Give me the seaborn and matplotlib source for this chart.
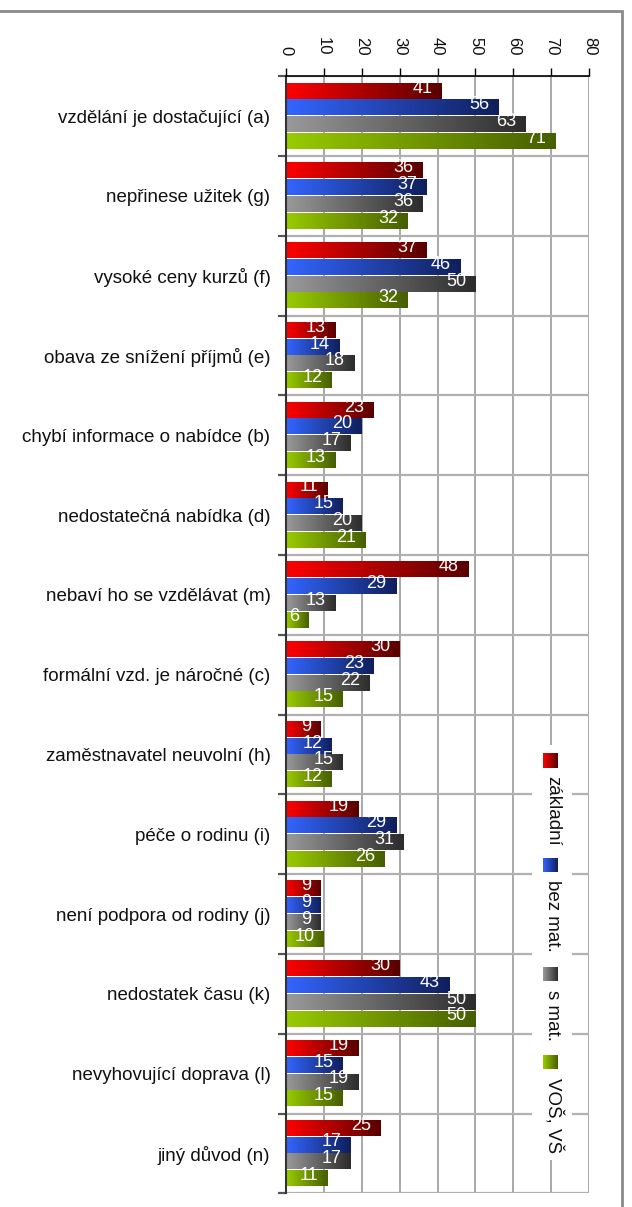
import numpy as np
import pandas as pd
import matplotlib
matplotlib.use("Agg")
import matplotlib.pyplot as plt
from matplotlib.colors import to_rgb
from matplotlib.patches import Rectangle
import seaborn as sns

# ---------------- data ----------------
categories = [
    "vzdělání je dostačující (a)",
    "nepřinese užitek (g)",
    "vysoké ceny kurzů (f)",
    "obava ze snížení příjmů (e)",
    "chybí informace o nabídce (b)",
    "nedostatečná nabídka (d)",
    "nebaví ho se vzdělávat (m)",
    "formální vzd. je náročné (c)",
    "zaměstnavatel neuvolní (h)",
    "péče o rodinu (i)",
    "není podpora od rodiny (j)",
    "nedostatek času (k)",
    "nevyhovující doprava (l)",
    "jiný důvod (n)",
]
groups = ["základní", "bez mat.", "s mat.", "VOŠ, VŠ"]
zakladni = [41, 36, 37, 13, 23, 11, 48, 30, 9, 19, 9, 30, 19, 25]
bez_mat = [56, 37, 46, 14, 20, 15, 29, 23, 12, 29, 9, 43, 15, 17]
s_mat = [63, 36, 50, 18, 17, 20, 13, 22, 15, 31, 9, 50, 19, 17]
vos_vs = [71, 32, 32, 12, 13, 21, 6, 15, 12, 26, 10, 50, 15, 11]
x_ticks = [0, 10, 20, 30, 40, 50, 60, 70, 80]

start_colors = ["#FF0000", "#3366FF", "#9A9A9A", "#99CC00"]
end_colors = ["#580000", "#101F5C", "#2C2C2C", "#465E00"]

series = [zakladni, bez_mat, s_mat, vos_vs]
df = pd.DataFrame({
    "category": np.repeat([categories], len(groups), axis=0).ravel(),
    "group": np.repeat(groups, len(categories)),
    "value": np.concatenate(series),
})

# ---------------- style ----------------
sns.set_style("white")
plt.rcParams["font.family"] = ["Liberation Sans", "DejaVu Sans"]

W, H = 632, 1207
fig = plt.figure(figsize=(W / 100, H / 100), dpi=100)

def fx(px):
    return px / W

def fy(py):
    return 1 - py / H

ax_l, ax_r, ax_t, ax_b = 285.7, 589.3, 76.3, 1193.3
ax = fig.add_axes([fx(ax_l), fy(ax_b), fx(ax_r) - fx(ax_l), fy(ax_t) - fy(ax_b)])

sns.barplot(data=df, x="value", y="category", hue="group", hue_order=groups,
            order=categories, palette=start_colors, orient="h", width=0.84,
            gap=0.1, legend=False, saturation=1, errorbar=None, ax=ax)

def gradient(c0, c1, n=256):
    a = np.array(to_rgb(c0))
    b = np.array(to_rgb(c1))
    t = np.linspace(0, 1, n)[:, None]
    return (a * (1 - t) + b * t)[None, :, :]

for cont, c0, c1, vals in zip(ax.containers, start_colors, end_colors, series):
    img = gradient(c0, c1)
    for rect, v in zip(cont.patches, vals):
        x0, y0 = rect.get_x(), rect.get_y()
        w, h = rect.get_width(), rect.get_height()
        rect.set_visible(False)
        ax.imshow(img, extent=[x0, x0 + w, y0 + h, y0], aspect="auto",
                  interpolation="bilinear", zorder=2)
        ax.annotate(str(v), xy=(x0 + w, y0 + h / 2), xytext=(-6.5, 2.2),
                    textcoords="offset points", ha="right", va="center",
                    color="white", fontsize=13, zorder=3)

ax.set_xlim(0, 80)
ax.set_ylim(len(categories) - 0.5, -0.5)
ax.set_xlabel("")
ax.set_ylabel("")

# x axis on top
ax.xaxis.tick_top()
ax.set_xticks(x_ticks)
ax.set_xticklabels([str(t) for t in x_ticks])
ax.tick_params(axis="x", which="major", top=True, bottom=False, length=5.5,
               width=1, color="black", labelsize=12, pad=9.5,
               labelrotation=270, labelcolor="#111111")

# y axis
ax.set_yticks(range(len(categories)))
ax.set_yticklabels(categories)
ax.set_yticks(np.arange(-0.5, len(categories), 1), minor=True)
ax.tick_params(axis="y", which="major", length=0, labelsize=13.5, pad=11,
               labelcolor="#111111")
ax.tick_params(axis="y", which="minor", left=True, length=6, width=1.6,
               color="#555555")

ax.grid(False)
ax.grid(True, which="major", axis="x", color="#A8A8A8", lw=1.4)
ax.grid(True, which="minor", axis="y", color="#B0B0B0", lw=1.6)
ax.set_axisbelow(True)

for s in ["right", "bottom"]:
    ax.spines[s].set_visible(False)
ax.spines["left"].set_color("#333333")
ax.spines["left"].set_linewidth(1.5)
ax.spines["top"].set_color("black")
ax.spines["top"].set_linewidth(1.2)

# legend (rotated, drawn like the original)
bg = Rectangle((fx(532), fy(1160)), fx(40), 415 / H, transform=fig.transFigure,
               facecolor="white", edgecolor="none", zorder=4)
fig.add_artist(bg)

square_tops = [753.3, 857.7, 967.0, 1055.0]
for g, c0, c1, top in zip(groups, start_colors, end_colors, square_tops):
    lax = fig.add_axes([fx(542.7), fy(top + 14.5), fx(15), 14.5 / H])
    lax.imshow(gradient(c0, c1), aspect="auto", interpolation="bilinear")
    lax.set_axis_off()
    lax.set_zorder(6)
    fig.text(fx(552.7), fy(top + 14.5 + 8), g, rotation=270, ha="center",
             va="top", fontsize=13.5, color="#111111", zorder=7)

# outer frame
fig.add_artist(Rectangle((-0.02, -0.02), fx(622) + 0.02, fy(11) + 0.02,
                         transform=fig.transFigure, facecolor="none",
                         edgecolor="#8A8A8A", lw=2, zorder=8))

fig.savefig("out.png", dpi=100)
